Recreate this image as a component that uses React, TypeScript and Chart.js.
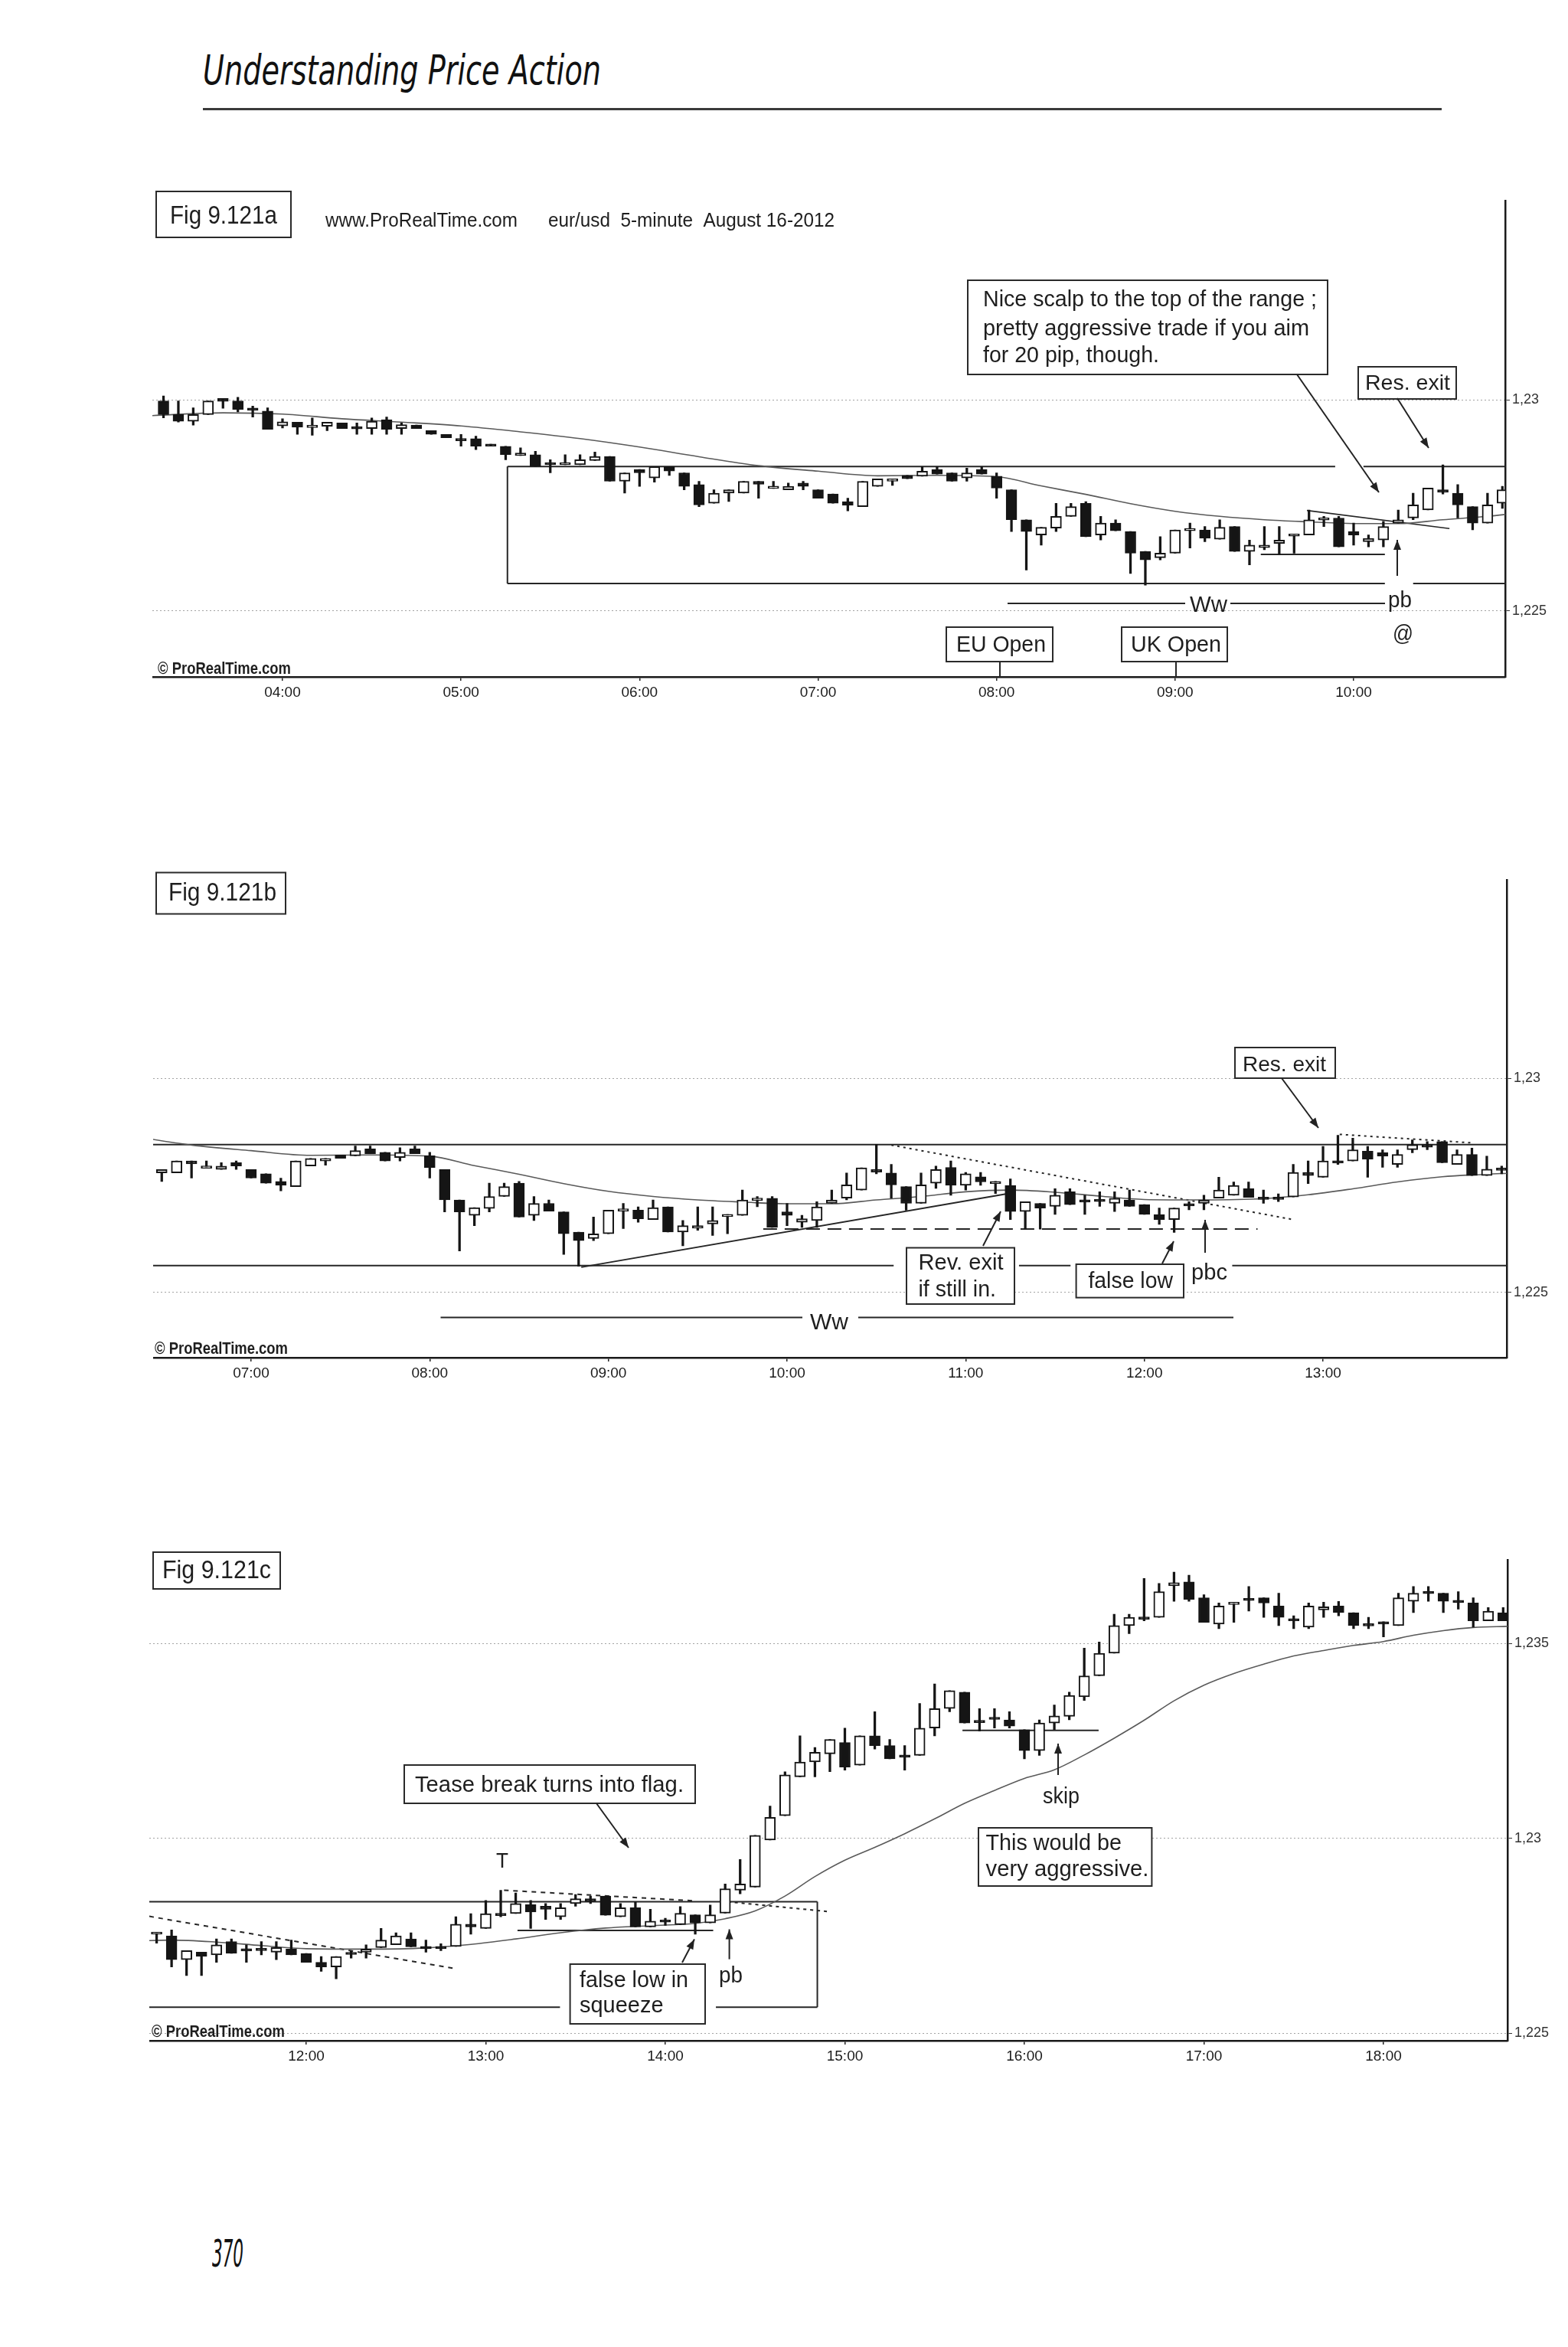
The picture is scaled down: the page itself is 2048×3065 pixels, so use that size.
import React, { useEffect, useLayoutEffect, useRef, useState } from 'react';
import { Chart, registerables } from 'chart.js';

Chart.register(...registerables);

const FONT = '"Liberation Sans", Arial, Helvetica, sans-serif';

// ---------------- data: EUR/USD 5-minute bars, August 16 2012 ----------------
const FIRST_BAR = '03:20';
const BAR_MINUTES = 5;
// all price values below are in pips relative to 1.2300 (1 pip = 0.0001)
const BASE_PRICE = 1.23;
const PIP = 0.0001;

const openPips = [
  -0.3, -3.5, -5.1, -3.5, 0.3, -0.3, -2.0, -2.7, -6.2, -5.3,
  -6.6, -6.3, -5.5, -6.4, -6.8, -4.7, -6.8, -6.0, -7.3, -8.2,
  -9.2, -9.2, -10.5, -11.0, -13.2, -13.0, -14.9, -15.4, -15.4, -14.4,
  -13.4, -19.3, -16.5, -18.5, -15.8, -17.3, -20.1, -24.5, -22.1, -22.1,
  -19.3, -21.0, -21.3, -19.7, -21.3, -22.3, -24.1, -25.3, -20.5, -19.3,
  -17.9, -18.1, -16.5, -17.3, -18.5, -16.5, -18.1, -21.3, -28.4, -32.0,
  -30.4, -27.6, -24.5, -32.0, -29.2, -31.2, -35.9, -37.4, -36.3, -31.0,
  -30.8, -33.0, -30.0, -35.9, -35.0, -34.0, -32.3, -32.0, -28.5, -28.0,
  -31.2, -33.6, -33.2, -29.2, -28.0, -26.1, -21.3, -22.1, -25.3, -29.2,
  -24.5, -20.8, -25.0, -23.0, -24.6, -25.0, -31.1, -29.2, -29.9, -26.5,
  -28.4, -28.3, -29.2, -28.4, -29.5, -31.8, -33.0, -29.3, -29.2, -28.0,
  -27.3, -25.8, -27.8, -27.8, -27.7, -22.0, -23.1, -19.3, -19.3, -17.0,
  -17.4, -20.1, -16.7, -15.5, -14.8, -20.1, -17.8, -22.7, -21.0, -22.1,
  -19.6, -21.7, -19.2, -13.3, -12.5, -0.4, 5.8, 15.8, 19.6, 21.7,
  24.6, 18.8, 26.3, 23.8, 21.3, 21.3, 28.3, 33.3, 37.5, 30.2,
  31.0, 30.4, 27.9, 22.5, 29.6, 31.3, 36.3, 41.7, 47.5, 54.6,
  56.7, 56.7, 64.8, 65.8, 61.7, 55.0, 60.0, 61.5, 61.7, 59.6,
  56.3, 54.2, 58.6, 59.6, 57.9, 55.0, 55.6, 54.6, 60.8, 63.3,
  62.9, 61.0, 60.4, 55.8, 57.9,
];

const highPips = [
  0.9, -0.3, -1.9, -0.3, 0.3, 0.6, -1.5, -1.9, -4.5, -5.3,
  -4.3, -5.3, -5.5, -5.5, -4.3, -4.1, -5.5, -6.0, -7.3, -8.2,
  -8.2, -8.6, -10.5, -11.0, -11.4, -12.2, -14.2, -13.0, -13.0, -12.4,
  -13.4, -17.3, -16.5, -15.8, -15.8, -17.3, -19.3, -21.3, -21.3, -19.3,
  -19.3, -19.3, -19.7, -19.3, -21.3, -22.3, -23.3, -19.3, -18.7, -18.7,
  -17.9, -15.8, -15.8, -17.3, -16.2, -15.8, -17.3, -21.3, -28.4, -30.2,
  -24.5, -24.5, -24.1, -27.6, -28.4, -31.2, -35.9, -32.4, -30.8, -29.2,
  -30.0, -28.4, -30.0, -33.2, -30.0, -30.0, -31.8, -26.1, -27.6, -27.6,
  -29.2, -32.0, -28.8, -26.1, -22.1, -20.9, -15.4, -20.1, -25.3, -22.1,
  -20.5, -19.3, -22.0, -22.0, -24.1, -23.5, -28.8, -29.2, -25.8, -25.8,
  -27.3, -26.5, -26.5, -26.1, -29.5, -30.3, -30.3, -28.8, -27.3, -23.1,
  -24.2, -24.2, -26.1, -27.0, -20.1, -19.3, -15.9, -13.3, -14.0, -15.9,
  -16.7, -16.7, -14.4, -14.8, -14.8, -16.7, -16.3, -18.2, -20.5, -17.5,
  -19.6, -17.1, -11.7, -5.4, 0.8, 8.3, 17.1, 26.3, 23.3, 25.4,
  28.3, 26.3, 32.5, 25.4, 23.8, 34.6, 39.6, 37.9, 37.5, 33.3,
  33.3, 32.5, 27.9, 30.4, 34.2, 37.5, 48.8, 50.4, 57.5, 57.5,
  66.7, 65.4, 68.3, 67.5, 62.5, 60.4, 60.6, 64.6, 61.7, 62.9,
  57.1, 60.4, 60.6, 60.8, 57.9, 56.7, 55.6, 62.9, 64.6, 64.6,
  62.9, 63.3, 61.7, 59.2, 59.2,
];

const lowPips = [
  -4.3, -5.3, -6.0, -3.5, -2.0, -2.9, -4.1, -7.0, -6.7, -8.2,
  -8.4, -7.3, -6.8, -8.2, -8.2, -8.2, -8.2, -6.8, -8.2, -9.0,
  -11.0, -11.8, -11.0, -14.2, -13.2, -15.8, -17.3, -15.4, -15.4, -14.4,
  -19.3, -22.1, -20.5, -19.5, -17.9, -21.3, -25.3, -24.5, -24.1, -22.1,
  -23.3, -21.0, -21.3, -21.3, -23.3, -24.5, -26.3, -25.3, -20.5, -20.3,
  -18.7, -18.1, -17.6, -19.3, -19.3, -17.6, -23.3, -31.2, -40.3, -34.4,
  -31.2, -27.6, -32.4, -33.2, -31.0, -41.1, -43.9, -37.9, -36.3, -35.1,
  -33.6, -33.0, -35.9, -39.1, -35.5, -36.7, -36.3, -32.0, -30.0, -34.8,
  -34.4, -34.8, -34.8, -29.2, -28.4, -26.1, -22.3, -28.0, -30.8, -29.2,
  -25.7, -27.3, -26.1, -25.0, -26.9, -33.0, -35.2, -35.2, -31.8, -29.5,
  -31.8, -29.9, -31.1, -29.9, -31.8, -34.1, -36.0, -30.7, -30.7, -28.0,
  -27.3, -27.8, -29.2, -28.8, -27.7, -24.6, -23.1, -20.1, -19.3, -23.1,
  -20.8, -20.8, -17.4, -16.7, -19.7, -20.1, -22.7, -22.7, -22.3, -22.1,
  -24.6, -21.7, -19.2, -14.2, -12.5, -0.4, 5.8, 15.8, 15.8, 17.1,
  17.5, 18.8, 22.9, 20.4, 17.5, 21.3, 26.3, 32.5, 29.6, 27.5,
  28.3, 28.3, 20.4, 21.3, 27.9, 30.4, 35.4, 41.7, 47.5, 52.5,
  55.8, 56.7, 60.8, 60.8, 55.4, 53.8, 55.4, 58.3, 56.7, 54.6,
  53.8, 53.8, 56.7, 57.1, 53.8, 53.8, 51.7, 54.6, 57.9, 60.8,
  57.9, 58.8, 54.2, 55.8, 55.8,
];

const closePips = [
  -3.5, -5.1, -3.5, -0.3, -0.4, -2.3, -2.5, -7.0, -5.2, -6.5,
  -6.1, -5.3, -6.8, -6.9, -5.1, -7.0, -5.9, -6.8, -8.2, -9.0,
  -9.7, -11.0, -11.0, -13.0, -12.6, -15.8, -15.4, -14.9, -14.2, -13.4,
  -19.3, -17.3, -17.3, -15.8, -16.9, -20.5, -24.9, -22.1, -21.3, -19.3,
  -20.0, -20.5, -20.5, -20.5, -23.3, -24.5, -25.0, -19.3, -18.7, -18.7,
  -18.7, -16.9, -17.6, -19.3, -17.3, -17.6, -20.9, -28.4, -31.2, -30.2,
  -27.6, -25.3, -32.4, -29.2, -31.0, -36.3, -37.9, -36.3, -30.8, -30.5,
  -32.8, -30.2, -35.9, -34.4, -34.4, -33.2, -31.8, -28.4, -28.0, -34.8,
  -32.0, -32.8, -30.0, -28.4, -24.9, -20.9, -21.9, -24.9, -29.2, -24.9,
  -21.3, -25.0, -22.3, -24.2, -24.1, -31.1, -28.8, -30.3, -27.3, -29.5,
  -28.9, -28.8, -28.0, -29.9, -31.8, -33.0, -30.3, -29.8, -28.4, -26.1,
  -25.0, -27.8, -28.3, -28.3, -22.0, -22.7, -19.3, -19.8, -16.7, -18.9,
  -18.2, -17.8, -15.5, -16.1, -19.7, -17.8, -22.7, -21.2, -21.5, -19.2,
  -21.7, -19.6, -12.9, -11.7, 0.8, 5.4, 16.3, 19.6, 22.1, 25.4,
  18.3, 26.3, 23.8, 20.4, 20.8, 28.3, 33.3, 37.9, 29.6, 29.7,
  30.5, 28.8, 22.5, 29.6, 31.4, 36.7, 41.7, 47.5, 54.6, 56.7,
  56.2, 63.3, 65.6, 61.3, 55.4, 59.6, 60.6, 61.0, 60.4, 56.7,
  55.8, 59.6, 59.4, 57.9, 54.6, 54.5, 55.0, 61.7, 62.9, 62.8,
  60.8, 60.5, 55.8, 58.3, 55.8,
];

// moving average line, read at sample times (pips from 1.2300)
const maTimes = [
  '03:15', '03:40', '04:00', '04:20', '04:40', '05:00', '05:20', '05:40', '06:00', '06:20',
  '06:40', '07:00', '07:20', '07:40', '08:00', '08:15', '08:30', '08:45', '09:00', '09:15',
  '09:30', '09:45', '10:00', '10:15', '10:30', '10:45', '11:00', '11:15', '11:30', '11:45',
  '12:00', '12:20', '12:40', '12:55', '13:10', '13:25', '13:40', '13:55', '14:10', '14:20',
  '14:30', '14:40', '14:50', '15:00', '15:10', '15:20', '15:30', '15:40', '15:50', '16:00',
  '16:10', '16:20', '16:30', '16:40', '16:50', '17:00', '17:10', '17:20', '17:30', '17:40',
  '17:50', '18:00', '18:10', '18:20', '18:30', '18:42',
];
const maPips = [
  -3.8, -3.1, -3.4, -4.5, -5.3, -6.2, -7.6, -9.2, -11.2, -13.5,
  -15.6, -16.9, -18.0, -17.9, -18.2, -20.4, -22.4, -24.6, -26.4, -27.6,
  -28.4, -28.9, -29.3, -29.3, -28.4, -27.6, -26.5, -26.1, -26.6, -27.5,
  -28.3, -28.4, -28.1, -27.2, -25.8, -24.2, -23.0, -22.4, -21.8, -20.6,
  -18.6, -14.8, -9.8, -5.6, -2.3, 1.2, 5.0, 9.0, 12.3, 15.4,
  17.6, 21.4, 25.7, 30.3, 35.3, 39.3, 42.3, 44.7, 46.8, 48.2,
  49.5, 50.5, 52.1, 53.3, 54.1, 54.4,
];

const yTicksA = [1.225, 1.23];
const yTicksB = [1.225, 1.23];
const yTicksC = [1.225, 1.23, 1.235];

// ---------------- helpers ----------------
const toMin = (s: string) => {
  const [h, m] = s.split(':').map(Number);
  return h * 60 + m;
};
const fmtHM = (v: number) => {
  const h = Math.floor(v / 60);
  const m = Math.round(v - h * 60);
  return `${String(h).padStart(2, '0')}:${String(m).padStart(2, '0')}`;
};
const toPrice = (p: number) => BASE_PRICE + p * PIP;
const barTime = (i: number) => toMin(FIRST_BAR) + i * BAR_MINUTES;

// ---------------- panel layouts & annotations ----------------
// segs: lines in data space (x in minutes of day, p in pips from 1.2300)
// plines / boxes / texts / arrows: page pixel positions of the drawn notes
const panelA = {
  left: 199, top: 248, width: 1831, height: 682, yAxisW: 64, xAxisH: 46,
  xMin: 196.26, xMax: 650.95, yMin: 1.22344, yMax: 1.234716, yTicks: yTicksA,
  segs: [
    { x1: 315.6, p1: -15.8, x2: 593.8, p2: -15.8 },
    { x1: 603.3, p1: -15.8, x2: 'max', p2: -15.8 },
    { x1: 315.6, p1: -43.5, x2: 610.5, p2: -43.5 },
    { x1: 620, p1: -43.5, x2: 'max', p2: -43.5 },
    { x1: 315.6, p1: -15.8, x2: 315.6, p2: -43.5 },
    { x1: 568.8, p1: -36.6, x2: 610.5, p2: -36.6 },
    { x1: 584.3, p1: -26.2, x2: 632.2, p2: -30.5, w: 1.6 },
  ],
  plines: [
    { x1: 1316, y1: 788, x2: 1548, y2: 788 },
    { x1: 1607, y1: 788, x2: 1809, y2: 788 },
    { x1: 1306, y1: 864, x2: 1306, y2: 884 },
    { x1: 1536, y1: 864, x2: 1536, y2: 884 },
  ],
  boxes: [
    { x: 204, y: 250, w: 176, h: 60 },
    { x: 1264, y: 366, w: 470, h: 123 },
    { x: 1774, y: 479, w: 128, h: 42 },
    { x: 1236, y: 819, w: 139, h: 45 },
    { x: 1465, y: 819, w: 138, h: 45 },
  ],
  texts: [
    { t: 'Fig 9.121a', x: 222, b: 292, s: 34, w: 140 },
    { t: 'www.ProRealTime.com', x: 425, b: 296, s: 25, w: 251 },
    { t: 'eur/usd  5-minute  August 16-2012', x: 716, b: 296, s: 25, w: 374 },
    { t: 'Nice scalp to the top of the range ;', x: 1284, b: 400, s: 30, w: 436 },
    { t: 'pretty aggressive trade if you aim', x: 1284, b: 438, s: 30, w: 426 },
    { t: 'for 20 pip, though.', x: 1284, b: 473, s: 30, w: 230 },
    { t: 'Res. exit', x: 1783, b: 509, s: 28, w: 111 },
    { t: 'EU Open', x: 1249, b: 851, s: 29, w: 117 },
    { t: 'UK Open', x: 1477, b: 851, s: 29, w: 118 },
    { t: 'Ww', x: 1554, b: 799, s: 30, w: 49 },
    { t: 'pb', x: 1813, b: 793, s: 29, w: 31 },
    { t: '@', x: 1819, b: 837, s: 30, w: 27 },
    { t: '© ProRealTime.com', x: 206, b: 880, s: 22, w: 174, bold: true },
  ],
  arrows: [
    { x1: 1694, y1: 489, x2: 1801, y2: 643 },
    { x1: 1825, y1: 520, x2: 1866, y2: 585 },
    { x1: 1825, y1: 752, x2: 1825, y2: 705 },
  ],
};

const panelB = {
  left: 200, top: 1135, width: 1830, height: 684, yAxisW: 62, xAxisH: 46,
  xMin: 387.1, xMax: 841.7, yMin: 1.223479, yMax: 1.234633, yTicks: yTicksB,
  segs: [
    { x1: 'min', p1: -15.5, x2: 'max', p2: -15.5 },
    { x1: 'min', p1: -43.7, x2: 635.8, p2: -43.7 },
    { x1: 677.9, p1: -43.7, x2: 695.2, p2: -43.7 },
    { x1: 749.5, p1: -43.7, x2: 'max', p2: -43.7 },
    { x1: 530.9, p1: -44.1, x2: 674.6, p2: -26.9 },
    { x1: 635, p1: -15.6, x2: 769.3, p2: -32.9, dash: [3, 5] },
    { x1: 592, p1: -35.2, x2: 758, p2: -35.2, dash: [18, 10] },
    { x1: 785.6, p1: -13.1, x2: 830.4, p2: -15.1, dash: [3, 5] },
  ],
  plines: [
    { x1: 575.5, y1: 1720.6, x2: 1048, y2: 1720.6 },
    { x1: 1121, y1: 1720.6, x2: 1611, y2: 1720.6 },
  ],
  boxes: [
    { x: 204, y: 1139.5, w: 169, h: 54 },
    { x: 1184, y: 1629.5, w: 141, h: 73.5 },
    { x: 1405.6, y: 1651, w: 140.4, h: 43.6 },
    { x: 1613, y: 1368, w: 131, h: 40 },
  ],
  texts: [
    { t: 'Fig 9.121b', x: 220, b: 1176, s: 34, w: 141 },
    { t: 'Rev. exit', x: 1199.5, b: 1658, s: 30, w: 111 },
    { t: 'if still in.', x: 1199.5, b: 1693, s: 30, w: 101.5 },
    { t: 'false low', x: 1421.4, b: 1682, s: 30, w: 110.6 },
    { t: 'pbc', x: 1556, b: 1671, s: 30, w: 47 },
    { t: 'Res. exit', x: 1623, b: 1399, s: 28, w: 109 },
    { t: 'Ww', x: 1058, b: 1736, s: 30, w: 50 },
    { t: '© ProRealTime.com', x: 202, b: 1768, s: 22, w: 174, bold: true },
  ],
  arrows: [
    { x1: 1284, y1: 1627, x2: 1307, y2: 1582 },
    { x1: 1518, y1: 1650, x2: 1533, y2: 1621 },
    { x1: 1574, y1: 1636, x2: 1574, y2: 1593 },
    { x1: 1674, y1: 1408, x2: 1722, y2: 1473 },
  ],
};

const panelC = {
  left: 195, top: 2023, width: 1835, height: 688, yAxisW: 61, xAxisH: 46,
  xMin: 667.55, xMax: 1121.45, yMin: 1.22481, yMax: 1.23715, yTicks: yTicksC,
  segs: [
    { x1: 'min', p1: -16.25, x2: 890.8, p2: -16.25 },
    { x1: 890.8, p1: -16.25, x2: 890.8, p2: -43.3 },
    { x1: 856.9, p1: -43.3, x2: 890.8, p2: -43.3 },
    { x1: 'min', p1: -43.3, x2: 804.8, p2: -43.3 },
    { x1: 'min', p1: -20.0, x2: 768.9, p2: -33.3, dash: [6, 6] },
    { x1: 786.1, p1: -13.3, x2: 849.2, p2: -16.0, dash: [6, 6] },
    { x1: 860.9, p1: -16.25, x2: 894.2, p2: -18.75, dash: [4, 5] },
    { x1: 790.6, p1: -23.6, x2: 856, p2: -23.6 },
    { x1: 939.3, p1: 27.7, x2: 984.8, p2: 27.7 },
  ],
  plines: [],
  boxes: [
    { x: 200, y: 2027, w: 166, h: 48 },
    { x: 528, y: 2305, w: 380, h: 50 },
    { x: 744.6, y: 2565, w: 176.4, h: 78 },
    { x: 1278, y: 2387, w: 226.4, h: 76 },
  ],
  texts: [
    { t: 'Fig 9.121c', x: 212, b: 2061, s: 34, w: 142 },
    { t: 'Tease break turns into flag.', x: 542, b: 2340, s: 30, w: 351 },
    { t: 'T', x: 648, b: 2439, s: 27, w: 16 },
    { t: 'false low in', x: 757, b: 2595, s: 30, w: 142 },
    { t: 'squeeze', x: 757, b: 2628, s: 30, w: 109.5 },
    { t: 'pb', x: 939, b: 2589, s: 29, w: 31 },
    { t: 'skip', x: 1362, b: 2355, s: 30, w: 48 },
    { t: 'This would be', x: 1287.5, b: 2416, s: 30, w: 177.5 },
    { t: 'very aggressive.', x: 1287.5, b: 2450, s: 30, w: 213 },
    { t: '© ProRealTime.com', x: 198, b: 2660, s: 22, w: 174, bold: true },
  ],
  arrows: [
    { x1: 779, y1: 2355, x2: 821, y2: 2413 },
    { x1: 891, y1: 2563, x2: 907, y2: 2532.5 },
    { x1: 952.6, y1: 2558.6, x2: 952.6, y2: 2519.5 },
    { x1: 1382, y1: 2318, x2: 1382, y2: 2277 },
  ],
};

// ---------------- drawing ----------------
function fitText(ctx: CanvasRenderingContext2D, t: any) {
  ctx.font = `${t.bold ? 'bold ' : ''}${t.s}px ${FONT}`;
  const m = ctx.measureText(t.t).width || 1;
  ctx.save();
  ctx.translate(t.x, t.b);
  ctx.scale(t.w / m, 1);
  ctx.fillText(t.t, 0, 0);
  ctx.restore();
}

function drawArrow(ctx: CanvasRenderingContext2D, a: any) {
  ctx.beginPath();
  ctx.moveTo(a.x1, a.y1);
  ctx.lineTo(a.x2, a.y2);
  ctx.stroke();
  const ang = Math.atan2(a.y2 - a.y1, a.x2 - a.x1);
  const L = 13;
  const W = 5;
  const bx = a.x2 - L * Math.cos(ang);
  const by = a.y2 - L * Math.sin(ang);
  ctx.beginPath();
  ctx.moveTo(a.x2, a.y2);
  ctx.lineTo(bx + W * Math.sin(ang), by - W * Math.cos(ang));
  ctx.lineTo(bx - W * Math.sin(ang), by + W * Math.cos(ang));
  ctx.closePath();
  ctx.fill();
}

function makeChart(canvas: HTMLCanvasElement, cfg: any) {
  const bars: any[] = [];
  for (let i = 0; i < openPips.length; i++) {
    const t = barTime(i);
    if (t < cfg.xMin || t > cfg.xMax) continue;
    bars.push({
      t,
      o: toPrice(openPips[i]),
      h: toPrice(highPips[i]),
      l: toPrice(lowPips[i]),
      c: toPrice(closePips[i]),
    });
  }
  const ma = maTimes.map((s, i) => ({ x: toMin(s), y: toPrice(maPips[i]) }));
  // hour labels; a label too close to the right axis is not shown
  const hourTicks: number[] = [];
  for (let h = 0; h <= 24; h++) {
    const v = h * 60;
    if (v >= cfg.xMin + 5 && v <= cfg.xMax - 5) hourTicks.push(v);
  }

  const annot = {
    id: 'annot',
    beforeDatasetsDraw(chart: any) {
      const { ctx, chartArea, scales } = chart;
      const X = (v: any) =>
        v === 'min' ? chartArea.left : v === 'max' ? chartArea.right : scales.x.getPixelForValue(v);
      ctx.save();
      ctx.strokeStyle = '#262626';
      ctx.lineCap = 'butt';
      cfg.segs.forEach((s: any) => {
        ctx.lineWidth = s.w ?? 2;
        ctx.setLineDash(s.dash ?? []);
        ctx.beginPath();
        ctx.moveTo(X(s.x1), scales.y.getPixelForValue(toPrice(s.p1)));
        ctx.lineTo(X(s.x2), scales.y.getPixelForValue(toPrice(s.p2)));
        ctx.stroke();
      });
      ctx.restore();
    },
    afterDatasetsDraw(chart: any) {
      const ctx: CanvasRenderingContext2D = chart.ctx;
      ctx.save();
      ctx.translate(-cfg.left, -cfg.top);
      ctx.strokeStyle = '#262626';
      ctx.fillStyle = '#1e1e1e';
      ctx.lineWidth = 2;
      ctx.setLineDash([]);
      cfg.plines.forEach((l: any) => {
        ctx.beginPath();
        ctx.moveTo(l.x1, l.y1);
        ctx.lineTo(l.x2, l.y2);
        ctx.stroke();
      });
      cfg.boxes.forEach((b: any) => {
        ctx.fillStyle = '#ffffff';
        ctx.fillRect(b.x, b.y, b.w, b.h);
        ctx.strokeStyle = '#2a2a2a';
        ctx.lineWidth = 2;
        ctx.strokeRect(b.x, b.y, b.w, b.h);
      });
      ctx.fillStyle = '#1e1e1e';
      ctx.textBaseline = 'alphabetic';
      ctx.textAlign = 'left';
      cfg.texts.forEach((t: any) => fitText(ctx, t));
      ctx.strokeStyle = '#222';
      ctx.fillStyle = '#222';
      ctx.lineWidth = 2;
      cfg.arrows.forEach((a: any) => drawArrow(ctx, a));
      ctx.restore();
    },
  };

  return new Chart(canvas, {
    type: 'bar',
    data: {
      datasets: [
        {
          type: 'line',
          data: ma,
          borderColor: '#5a5a5a',
          borderWidth: 1.6,
          pointRadius: 0,
          cubicInterpolationMode: 'monotone',
          order: 3,
        } as any,
        {
          type: 'bar',
          data: bars.map((b) => ({ x: b.t, y: [b.l, b.h] })),
          backgroundColor: '#151515',
          borderWidth: 0,
          barThickness: 2.6,
          grouped: false,
          order: 2,
        } as any,
        {
          type: 'bar',
          data: bars.map((b) => ({ x: b.t, y: [Math.min(b.o, b.c), Math.max(b.o, b.c)] })),
          backgroundColor: bars.map((b) => (b.c >= b.o ? '#ffffff' : '#151515')),
          borderColor: '#151515',
          borderWidth: 2,
          borderSkipped: false,
          barThickness: 14,
          minBarLength: 3,
          grouped: false,
          order: 1,
        } as any,
      ],
    },
    options: {
      responsive: false,
      animation: false,
      events: [],
      layout: { padding: 0 },
      plugins: { legend: { display: false }, tooltip: { enabled: false } },
      scales: {
        x: {
          type: 'linear',
          position: 'bottom',
          min: cfg.xMin,
          max: cfg.xMax,
          offset: false,
          grid: { display: true, offset: false, drawOnChartArea: false, drawTicks: true, tickLength: 5, color: '#222', lineWidth: 1.5 },
          border: { display: true, color: '#1a1a1a', width: 2.5 },
          ticks: {
            autoSkip: false,
            maxRotation: 0,
            padding: 4,
            color: '#1a1a1a',
            font: { family: FONT, size: 19 },
            callback: (v: any) => fmtHM(Number(v)),
          },
          afterBuildTicks: (s: any) => {
            s.ticks = hourTicks.map((v) => ({ value: v }));
          },
          afterFit: (s: any) => {
            s.height = cfg.xAxisH;
          },
        },
        y: {
          type: 'linear',
          position: 'right',
          min: cfg.yMin,
          max: cfg.yMax,
          grid: { color: '#a3a3a3', lineWidth: 1, drawTicks: true, tickLength: 6, tickColor: '#333' },
          border: { display: true, color: '#1a1a1a', width: 2.5, dash: [2, 3] },
          ticks: {
            padding: 3,
            color: '#333',
            font: { family: FONT, size: 18 },
            callback: (v: any) => String(Number(v)).replace('.', ','),
          },
          afterBuildTicks: (s: any) => {
            s.ticks = cfg.yTicks.map((v: number) => ({ value: v }));
          },
          afterFit: (s: any) => {
            s.width = cfg.yAxisW;
          },
        },
      },
    } as any,
    plugins: [annot],
  });
}

function Panel({ cfg }: { cfg: any }) {
  const ref = useRef<HTMLCanvasElement>(null);
  useEffect(() => {
    if (!ref.current) return;
    const chart = makeChart(ref.current, cfg);
    return () => chart.destroy();
  }, [cfg]);
  return (
    <canvas
      ref={ref}
      width={cfg.width}
      height={cfg.height}
      style={{ position: 'absolute', left: cfg.left, top: cfg.top, width: cfg.width, height: cfg.height }}
    />
  );
}

function FitText(props: any) {
  const { text, left, baseline, size, width, family, italic } = props;
  const ref = useRef<HTMLSpanElement>(null);
  const [sx, setSx] = useState(1);
  useLayoutEffect(() => {
    if (ref.current) {
      const w = ref.current.getBoundingClientRect().width;
      if (w > 0) setSx(width / w);
    }
  }, []);
  return (
    <span
      ref={ref}
      style={{
        position: 'absolute',
        left,
        top: baseline - 0.846 * size,
        fontSize: size,
        lineHeight: 1,
        fontFamily: family,
        fontStyle: italic ? 'italic' : 'normal',
        whiteSpace: 'nowrap',
        color: '#111',
        transform: `scaleX(${sx})`,
        transformOrigin: 'left top',
      }}
    >
      {text}
    </span>
  );
}

export default function App() {
  const headFont = '"Liberation Sans Narrow", "DejaVu Sans Condensed", "Liberation Sans", sans-serif';
  return (
    <div
      style={{
        position: 'absolute',
        left: 0,
        top: 0,
        width: 2048,
        height: 3065,
        background: '#ffffff',
        overflow: 'hidden',
      }}
    >
      <FitText text="Understanding Price Action" left={265} baseline={110} size={53} width={520} family={headFont} italic />
      <div style={{ position: 'absolute', left: 265, top: 141, width: 1618, height: 3, background: '#3a3a3a' }} />
      <Panel cfg={panelA} />
      <Panel cfg={panelB} />
      <Panel cfg={panelC} />
      <FitText text="370" left={277} baseline={2960} size={50} width={41} family={headFont} italic />
    </div>
  );
}
